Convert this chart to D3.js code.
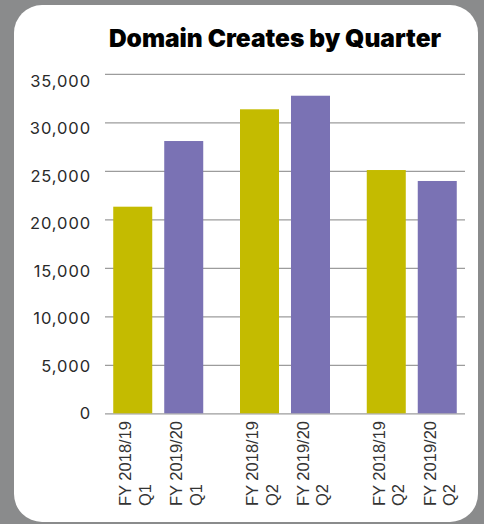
<!DOCTYPE html>
<html>
<head>
<meta charset="utf-8">
<script src="https://cdn.jsdelivr.net/npm/d3@7"></script>
<style>
  html, body { margin: 0; padding: 0; background: #8a8b8c; }
  svg { display: block; }
</style>
</head>
<body>
<svg id="chart"></svg>
<script>
const width = 484;
const height = 524;

// data
const quarters = ["Q1", "Q2", "Q2"];
const years = ["FY 2018/19", "FY 2019/20"];
const fy1819 = [21300, 31340, 25080];
const fy1920 = [28070, 32740, 23950];
const yTicks = [0, 5000, 10000, 15000, 20000, 25000, 30000, 35000];
const colors = ["#c4bb00", "#7a72b4"];

const plot = { left: 105, right: 465, top: 73.8, bottom: 413.3 };

const svg = d3.select("#chart")
    .attr("width", width)
    .attr("height", height);

// white card
svg.append("rect")
    .attr("x", 14)
    .attr("y", 5)
    .attr("width", 464)
    .attr("height", 517)
    .attr("rx", 28)
    .attr("fill", "#fff");

// title
svg.append("text")
    .attr("x", 275)
    .attr("y", 47)
    .attr("text-anchor", "middle")
    .attr("font-family", "Inter, 'DejaVu Sans', sans-serif")
    .attr("font-weight", 900)
    .attr("font-size", 24.5)
    .attr("fill", "#000")
    .text("Domain Creates by Quarter");

const rows = quarters.map((q, i) => ({
    key: i,
    quarter: q,
    values: [fy1819[i], fy1920[i]]
}));

// scales
const x0 = d3.scaleBand()
    .domain(rows.map(d => d.key))
    .range([plot.left, plot.right])
    .paddingInner(0.29)
    .paddingOuter(0.065);

const x1 = d3.scaleBand()
    .domain(d3.range(years.length))
    .range([0, x0.bandwidth()])
    .paddingInner(0.235);

const y = d3.scaleLinear()
    .domain([0, 35000])
    .range([plot.bottom, plot.top]);

// labels sit slightly off the grid in the original
const yLabel = d3.scaleLinear()
    .domain([0, 35000])
    .range([plot.bottom, plot.top + 7]);

// gridlines
const grid = svg.append("g")
    .attr("transform", `translate(${plot.left},0)`)
    .call(d3.axisLeft(y).tickValues(yTicks).tickSize(-(plot.right - plot.left)).tickFormat(""));
grid.select(".domain").remove();
grid.selectAll(".tick line")
    .attr("stroke", "#9c9c9c")
    .attr("stroke-width", 1.3);

// y labels
const yAxis = svg.append("g")
    .attr("transform", "translate(91,0)")
    .call(d3.axisLeft(yLabel).tickValues(yTicks).tickSize(0).tickPadding(0).tickFormat(d3.format(",")));
yAxis.select(".domain").remove();
yAxis.selectAll(".tick text")
    .attr("font-family", "Inter, sans-serif")
    .attr("font-size", 16.5)
    .attr("letter-spacing", 0.9)
    .attr("fill", "#2a2a2a");

// bars
const groups = svg.append("g")
    .selectAll("g")
    .data(rows)
    .join("g")
    .attr("transform", d => `translate(${x0(d.key)},0)`);

groups.selectAll("rect")
    .data(d => d.values.map((v, j) => ({ j, v })))
    .join("rect")
    .attr("x", d => x1(d.j))
    .attr("y", d => y(d.v))
    .attr("width", x1.bandwidth())
    .attr("height", d => y(0) - y(d.v))
    .attr("fill", d => colors[d.j]);

// rotated x labels, two lines aligned at the bottom
groups.selectAll("g.xlab")
    .data(d => years.map((yr, j) => ({ j, yr, q: d.quarter })))
    .join("g")
    .attr("class", "xlab")
    .attr("transform", d => `translate(${x1(d.j) + x1.bandwidth() / 2},506) rotate(-90)`)
    .each(function (d) {
        const t = d3.select(this).append("text")
            .attr("text-anchor", "start")
            .attr("font-family", "'Liberation Sans', Arial, sans-serif")
            .attr("font-size", 16.5)
            .attr("fill", "#333");
        t.append("tspan").attr("x", 0).attr("y", -1.5).text(d.yr);
        t.append("tspan").attr("x", 0).attr("y", 18).text(d.q);
    });
</script>
</body>
</html>
